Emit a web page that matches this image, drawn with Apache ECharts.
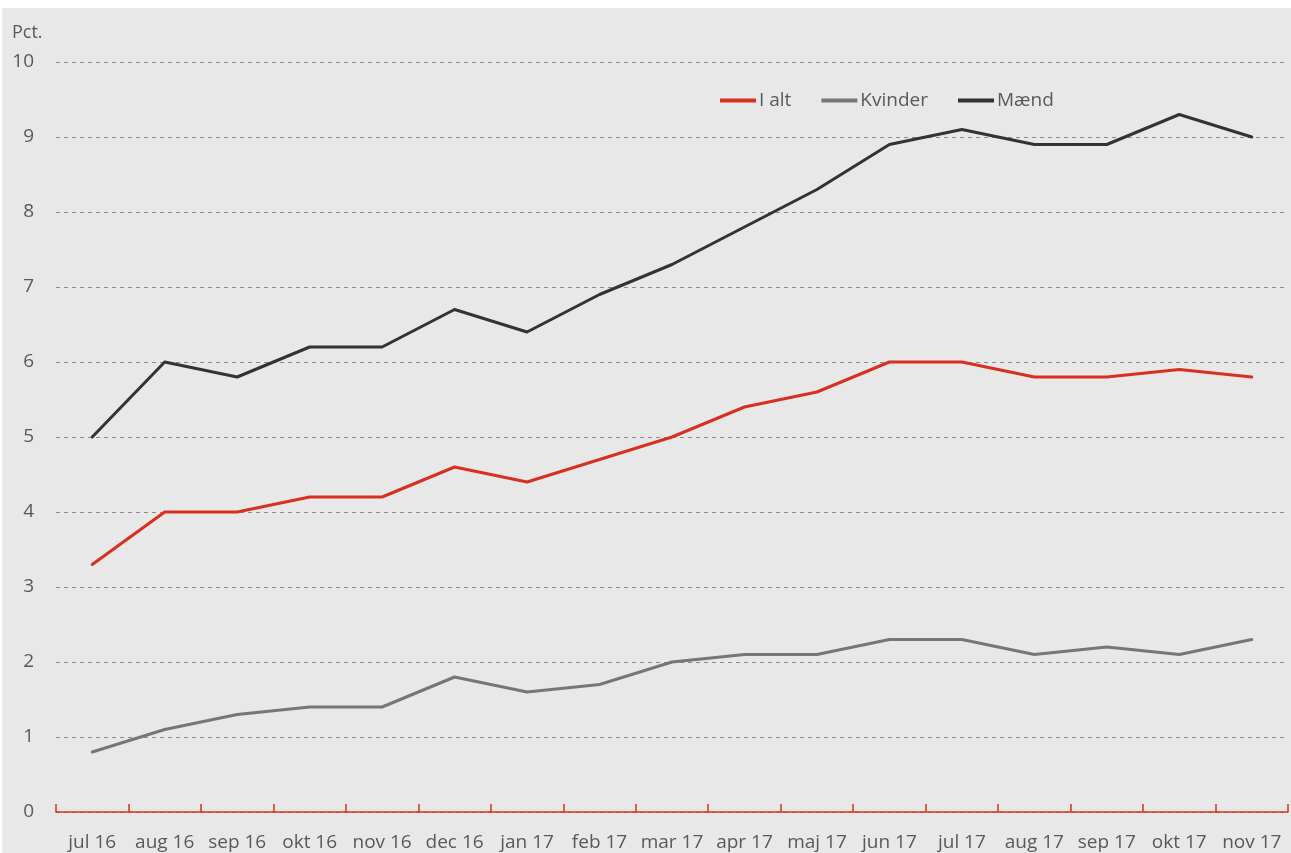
<!DOCTYPE html>
<html><head><meta charset="utf-8">
<script src="https://cdn.jsdelivr.net/npm/echarts@6/dist/echarts.min.js"></script>
<style>
html,body{margin:0;padding:0;background:#fff;}
#bg{position:absolute;left:2px;top:8px;width:1289px;height:845px;background:#e8e8e8;}
#c{position:absolute;left:0;top:0;width:1291px;height:853px;}
</style></head>
<body><div id="bg"></div><div id="c"></div>
<script>
const categories = ['jul 16','aug 16','sep 16','okt 16','nov 16','dec 16','jan 17','feb 17','mar 17','apr 17','maj 17','jun 17','jul 17','aug 17','sep 17','okt 17','nov 17'];
const iAlt    = [3.3,4.0,4.0,4.2,4.2,4.6,4.4,4.7,5.0,5.4,5.6,6.0,6.0,5.8,5.8,5.9,5.8];
const kvinder = [0.8,1.1,1.3,1.4,1.4,1.8,1.6,1.7,2.0,2.1,2.1,2.3,2.3,2.1,2.2,2.1,2.3];
const maend   = [5.0,6.0,5.8,6.2,6.2,6.7,6.4,6.9,7.3,7.8,8.3,8.9,9.1,8.9,8.9,9.3,9.0];
const seriesNames = ['I alt','Kvinder','Mænd'];
const colors = ['#d7301f','#767676','#333333'];

const font = 'Open Sans';
const chart = echarts.init(document.getElementById('c'), null, {renderer:'canvas'});
const mk = (name, data, color) => ({
  name, type:'line', data, symbol:'none', smooth:false,
  lineStyle:{color, width:3, cap:'round', join:'round'}, itemStyle:{color}
});
chart.setOption({
  animation:false,
  backgroundColor:'transparent',
  grid:{left:56, right:3, top:62, bottom:41, containLabel:false},
  legend:{
    left:715, top:86, itemWidth:36, itemHeight:4, itemGap:30,
    icon:'rect',
    textStyle:{fontFamily:font, fontSize:19, color:'#595959', padding:[0,0,0,-2]},
    data:seriesNames
  },
  xAxis:{
    type:'category', data:categories, boundaryGap:true,
    axisLine:{lineStyle:{color:'#d7301f', width:1.5}},
    axisTick:{show:true, inside:true, length:8, interval:0, alignWithLabel:false, lineStyle:{color:'#d7301f', width:1.5}},
    axisLabel:{interval:0, margin:21, fontFamily:font, fontSize:19, color:'#595959'},
    splitLine:{show:false}
  },
  yAxis:{
    type:'value', min:0, max:10, interval:1,
    name:'Pct.', nameLocation:'end', nameGap:20,
    nameTextStyle:{fontFamily:font, fontSize:18, color:'#595959', align:'left', padding:[0,0,0,-44]},
    axisLine:{show:false}, axisTick:{show:false},
    axisLabel:{margin:22, fontFamily:font, fontSize:19, color:'#595959'},
    splitLine:{lineStyle:{color:'#8c8c8c', type:[4,4], width:1}}
  },
  series:[mk(seriesNames[0], iAlt, colors[0]), mk(seriesNames[1], kvinder, colors[1]), mk(seriesNames[2], maend, colors[2])]
});
</script></body></html>
